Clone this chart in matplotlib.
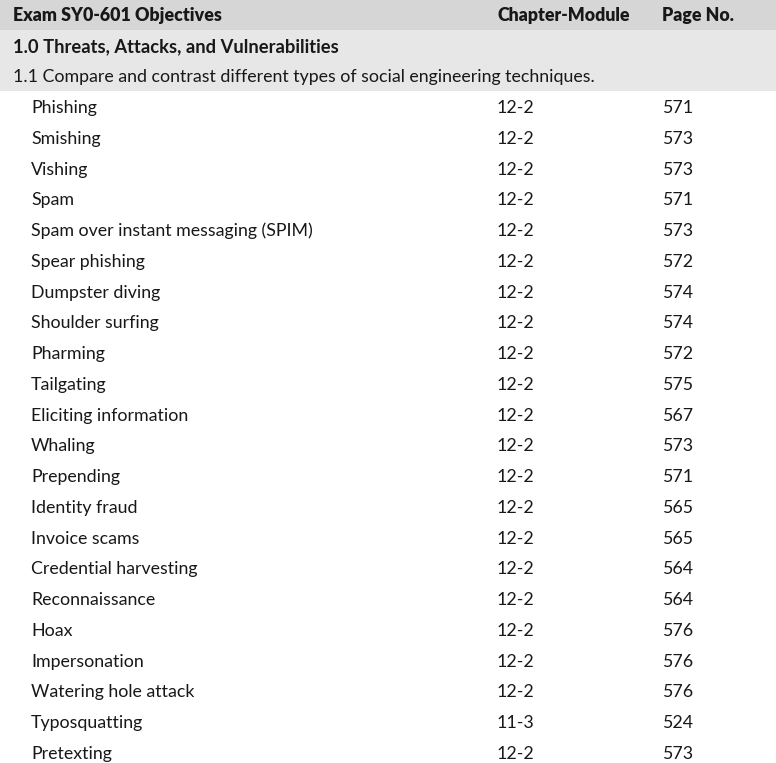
import matplotlib
matplotlib.use("Agg")
import matplotlib.pyplot as plt
from matplotlib.patches import Rectangle

columns = ["Exam SY0-601 Objectives", "Chapter-Module", "Page No."]
domain = "1.0 Threats, Attacks, and Vulnerabilities"
objective = "1.1 Compare and contrast different types of social engineering techniques."
topics = ["Phishing", "Smishing", "Vishing", "Spam", "Spam over instant messaging (SPIM)",
          "Spear phishing", "Dumpster diving", "Shoulder surfing", "Pharming", "Tailgating",
          "Eliciting information", "Whaling", "Prepending", "Identity fraud", "Invoice scams",
          "Credential harvesting", "Reconnaissance", "Hoax", "Impersonation",
          "Watering hole attack", "Typosquatting", "Pretexting"]
modules = ["12-2"] * 20 + ["11-3", "12-2"]
pages = ["571", "573", "573", "571", "573", "572", "574", "574", "572", "575", "567",
         "573", "571", "565", "565", "564", "564", "576", "576", "576", "524", "573"]

W, H = 776, 763
fig = plt.figure(figsize=(W / 100, H / 100), dpi=100)
ax = fig.add_axes([0, 0, 1, 1])
ax.set_xlim(0, W)
ax.set_ylim(H, 0)
ax.axis("off")

FONT = "Lato"
SIZE = 12.8
row_h = 30.75
y0 = 15.8
x_col = [13, 497, 662]
x_indent = 31
TC = "#1a1718"

ax.add_patch(Rectangle((0, 0), W, 29.5, facecolor="#d6d6d7", edgecolor="none"))
ax.add_patch(Rectangle((0, 29.5), W, 61.5, facecolor="#e7e7e8", edgecolor="none"))

for x, c in zip(x_col, columns):
    ax.text(x, y0, c, fontsize=SIZE, fontweight="heavy", family=FONT, va="center", color=TC)
ax.text(x_col[0], y0 + row_h, domain, fontsize=13.2, fontweight="bold", family=FONT,
        va="center", color=TC)
ax.text(x_col[0], y0 + 2 * row_h, objective, fontsize=SIZE, family=FONT, va="center", color=TC)

for i, (t, m, p) in enumerate(zip(topics, modules, pages)):
    y = y0 + (i + 3) * row_h
    ax.text(x_indent, y, t, fontsize=SIZE, family=FONT, va="center", color=TC)
    ax.text(x_col[1], y, m, fontsize=SIZE, family=FONT, va="center", color=TC)
    ax.text(x_col[2], y, p, fontsize=SIZE, family=FONT, va="center", color=TC)

fig.savefig("out.png", dpi=100)
